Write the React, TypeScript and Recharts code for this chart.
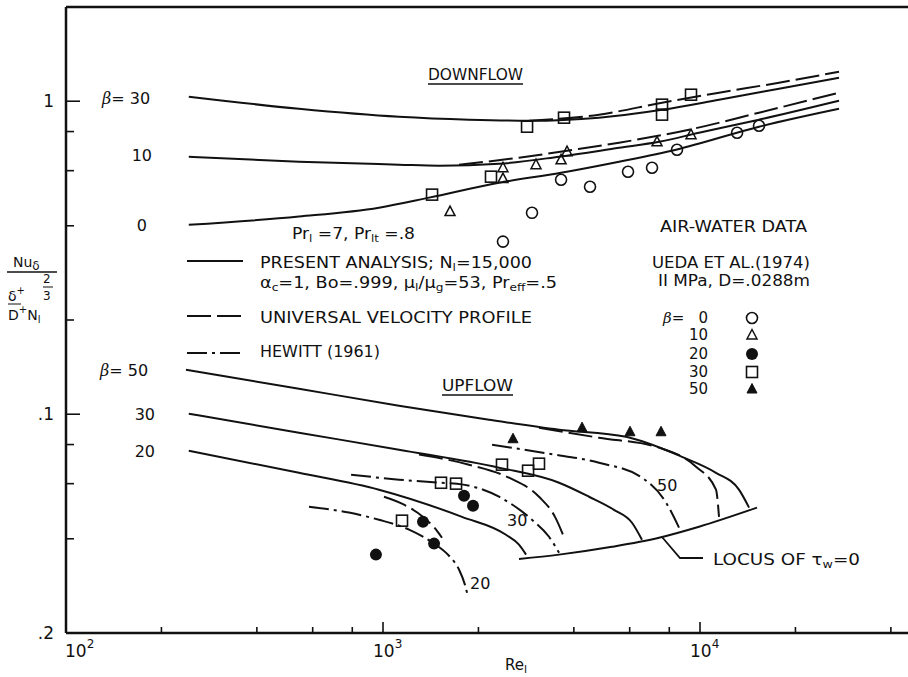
import React from 'react';
import { ComposedChart, Line, Scatter, XAxis, YAxis, ReferenceLine } from 'recharts';

type Pt = [number, number]; // [Re_l, Nu group]

// ---- DOWNFLOW (upper family) ----
const downPresent30: Pt[] = [[244, 1.034], [543, 0.946], [1123, 0.892], [1867, 0.873], [2888, 0.866], [4801, 0.886], [7589, 0.939], [11480, 1.011], [17750, 1.096], [27450, 1.189]];
const downUniversal30: Pt[] = [[2888, 0.866], [4801, 0.906], [7589, 0.989], [11480, 1.065], [17750, 1.146], [27450, 1.242]];
const downPresent10: Pt[] = [[244, 0.665], [543, 0.641], [1123, 0.627], [1502, 0.622], [2322, 0.631], [3592, 0.665], [5553, 0.71], [7425, 0.742], [9927, 0.793], [15350, 0.873], [27450, 1.004]];
const downUniversal10: Pt[] = [[1737, 0.627], [2685, 0.66], [3806, 0.695], [5553, 0.737], [9232, 0.811], [15350, 0.919], [27450, 1.065]];
const downPresent0: Pt[] = [[244, 0.403], [543, 0.428], [971, 0.457], [1397, 0.492], [2322, 0.549], [3645, 0.591], [5553, 0.641], [8402, 0.7], [15350, 0.829], [27450, 0.946]];

const downSquares30: Pt[] = [[1428, 0.503], [2191, 0.574], [2847, 0.829], [3724, 0.886], [7589, 0.975], [7589, 0.906], [9367, 1.049]];
const downTriangles10: Pt[] = [[1627, 0.444], [2390, 0.613], [2390, 0.566], [3038, 0.627], [3645, 0.65], [3806, 0.69], [7318, 0.742], [9367, 0.782]];
const downCircles0: Pt[] = [[2390, 0.356], [2951, 0.44], [3645, 0.561], [4498, 0.533], [5928, 0.595], [7057, 0.613], [8461, 0.7], [13090, 0.793], [15350, 0.835]];

// ---- UPFLOW (lower family, plotted a decade down) ----
const upPresent50: Pt[] = [[239, 0.1388], [543, 0.1206], [1123, 0.1065], [2160, 0.096], [3592, 0.0892], [5842, 0.0847], [8776, 0.0731], [11230, 0.065], [13270, 0.0574], [14280, 0.0503]];
const upUniversal50: Pt[] = [[3105, 0.0906], [4801, 0.0841], [7425, 0.0782], [9714, 0.068], [11230, 0.0574], [11480, 0.047]];
const upHewitt50: Pt[] = [[2208, 0.0799], [3340, 0.0748], [4801, 0.07], [6561, 0.0627], [7813, 0.0522], [8586, 0.0434]];
const upPresent30: Pt[] = [[244, 0.1004], [543, 0.0873], [1123, 0.077], [2322, 0.0675], [3592, 0.0604], [4466, 0.0545], [5354, 0.0495], [6102, 0.045], [6561, 0.0397]];
const upUniversal30: Pt[] = [[1299, 0.0743], [1867, 0.069], [2497, 0.0627], [3105, 0.0545], [3488, 0.047], [3751, 0.0397]];
const upHewitt30: Pt[] = [[793, 0.0641], [1123, 0.0618], [1524, 0.0604], [1712, 0.06], [2322, 0.0545], [2951, 0.046], [3340, 0.0406], [3592, 0.0361]];
const upPresent20: Pt[] = [[244, 0.0764], [543, 0.065], [971, 0.0574], [1775, 0.047], [2443, 0.0412], [2685, 0.0383], [2826, 0.0356]];
const upUniversal20: Pt[] = [[1007, 0.0545], [1165, 0.0514], [1347, 0.0467], [1470, 0.0428], [1535, 0.0403]];
const upHewitt20: Pt[] = [[584, 0.0506], [781, 0.0485], [971, 0.046], [1208, 0.0428], [1449, 0.0386], [1615, 0.0353], [1737, 0.0319], [1814, 0.0285], [1854, 0.0261]];
const locusTw0: Pt[] = [[2685, 0.0345], [3592, 0.0356], [5277, 0.0377], [7425, 0.0403], [9927, 0.0437], [15130, 0.0503]];

const upTriangles50: Pt[] = [[2571, 0.0835], [4245, 0.0906], [6014, 0.0879], [7534, 0.0879]];
const upSquares30: Pt[] = [[2373, 0.069], [2868, 0.066], [3105, 0.0695], [1524, 0.0604], [1700, 0.06], [1148, 0.0457]];
const upDots20: Pt[] = [[1801, 0.0549], [1923, 0.051], [1337, 0.0453], [1449, 0.0386], [950, 0.0356]];

// axes
const X_TICKS = [100, 200, 400, 600, 800, 1000, 2000, 4000, 6000, 8000, 10000, 20000, 40000];
const X_MAJOR = [100, 1000, 10000];
const Y_TICKS = [0.02, 0.04, 0.06, 0.08, 0.1, 0.2, 0.4, 0.6, 0.8, 1];
const Y_LABELS: Record<string, string> = { '1': '1', '0.1': '.1', '0.02': '.2' };

const W = 908;
const H = 677;
const PLOT_LEFT = 66;
const PLOT_TOP = 7;
const PLOT_BOTTOM = 633;
const INK = '#111';
const FONT = "'DejaVu Sans', 'Liberation Sans', sans-serif";
const DASH = '24 6';
const DASHDOT = '20 5 3 5';

const toPts = (a: Pt[]) => a.map(([re, v]) => ({ re, v }));

const curves = [
  { id: 'd30p', pts: downPresent30, dash: undefined },
  { id: 'd30u', pts: downUniversal30, dash: DASH },
  { id: 'd10p', pts: downPresent10, dash: undefined },
  { id: 'd10u', pts: downUniversal10, dash: DASH },
  { id: 'd0p', pts: downPresent0, dash: undefined },
  { id: 'u50p', pts: upPresent50, dash: undefined },
  { id: 'u50u', pts: upUniversal50, dash: DASH },
  { id: 'u50h', pts: upHewitt50, dash: DASHDOT },
  { id: 'u30p', pts: upPresent30, dash: undefined },
  { id: 'u30u', pts: upUniversal30, dash: DASH },
  { id: 'u30h', pts: upHewitt30, dash: DASHDOT },
  { id: 'u20p', pts: upPresent20, dash: undefined },
  { id: 'u20u', pts: upUniversal20, dash: DASH },
  { id: 'u20h', pts: upHewitt20, dash: DASHDOT },
  { id: 'locus', pts: locusTw0, dash: undefined },
];

const openCircle = (p: any) => <circle cx={p.cx} cy={p.cy} r={5.5} fill="none" stroke={INK} strokeWidth={1.6} />;
const filledCircle = (p: any) => <circle cx={p.cx} cy={p.cy} r={6} fill={INK} />;
const openSquare = (p: any) => <rect x={p.cx - 5.5} y={p.cy - 5.5} width={11} height={11} fill="none" stroke={INK} strokeWidth={1.6} />;
const triPath = (cx: number, cy: number) => `M${cx},${cy - 5.5} L${cx + 5},${cy + 4} L${cx - 5},${cy + 4} Z`;
const openTriangle = (p: any) => <path d={triPath(p.cx, p.cy)} fill="none" stroke={INK} strokeWidth={1.5} />;
const filledTriangle = (p: any) => <path d={triPath(p.cx, p.cy)} fill={INK} stroke={INK} strokeWidth={1} />;

const markers = [
  { id: 'ds30', pts: downSquares30, shape: openSquare },
  { id: 'dt10', pts: downTriangles10, shape: openTriangle },
  { id: 'dc0', pts: downCircles0, shape: openCircle },
  { id: 'ut50', pts: upTriangles50, shape: filledTriangle },
  { id: 'us30', pts: upSquares30, shape: openSquare },
  { id: 'ud20', pts: upDots20, shape: filledCircle },
];

function XTick(props: any) {
  const { x, payload } = props;
  const v = payload.value;
  const major = X_MAJOR.includes(v);
  const exp = Math.round(Math.log10(v));
  const tx = v === 100 ? x - 1 : x - 10;
  return (
    <g>
      <line x1={x} x2={x} y1={PLOT_BOTTOM} y2={PLOT_BOTTOM - (major ? 11 : 6)} stroke={INK} strokeWidth={1.6} />
      {major && (
        <text x={tx} y={657} fontSize={17} fontFamily={FONT} fill={INK}>
          <tspan>10</tspan>
          <tspan dy={-9} fontSize={12}>{exp}</tspan>
        </text>
      )}
    </g>
  );
}

function YTick(props: any) {
  const { y, payload } = props;
  const v = payload.value;
  const label = Y_LABELS[String(v)];
  const len = v === 1 || v === 0.1 ? 14 : 8;
  return (
    <g>
      {v !== 0.02 && <line x1={PLOT_LEFT} x2={PLOT_LEFT + len} y1={y} y2={y} stroke={INK} strokeWidth={1.6} />}
      {label && (
        <text x={54} y={y + 6} textAnchor="end" fontSize={17} fontFamily={FONT} fill={INK}>
          {label}
        </text>
      )}
    </g>
  );
}

type Seg = string | { sub: string } | { sup: string };

// text with sub/superscripts, keeping the baseline in step
function Rich({ segs, small = 11, ...rest }: any) {
  let shift = 0;
  const out = (segs as Seg[]).map((s, i) => {
    if (typeof s === 'string') {
      const dy = -shift;
      shift = 0;
      return <tspan key={i} dy={dy}>{s}</tspan>;
    }
    if ('sub' in s) {
      const dy = 3 - shift;
      shift = 3;
      return <tspan key={i} dy={dy} fontSize={small}>{s.sub}</tspan>;
    }
    const dy = -7 - shift;
    shift = -7;
    return <tspan key={i} dy={dy} fontSize={small}>{s.sup}</tspan>;
  });
  return <text fontFamily={FONT} fill={INK} {...rest}>{out}</text>;
}

function Beta({ x, y, rest, size = 16 }: { x: number; y: number; rest: string; size?: number }) {
  return (
    <text x={x} y={y} fontFamily={FONT} fill={INK} fontSize={size}>
      <tspan fontStyle="italic" fontFamily="'DejaVu Serif', serif">β</tspan>
      <tspan>{rest}</tspan>
    </text>
  );
}

function Annotations() {
  const t = { fontFamily: FONT, fill: INK, fontSize: 16 } as const;
  return (
    <svg width={W} height={H} style={{ position: 'absolute', left: 0, top: 0, pointerEvents: 'none' }}>
      {/* y-axis group label */}
      <Rich x={13} y={267} fontSize={14} small={12} segs={['Nu', { sub: 'δ' }]} />
      <line x1={7} x2={57} y1={272} y2={272} stroke={INK} strokeWidth={1.5} />
      <Rich x={8} y={301} fontSize={14} small={10} segs={['δ', { sup: '+' }]} />
      <line x1={8} x2={21} y1={304} y2={304} stroke={INK} strokeWidth={1} />
      <Rich x={8} y={320} fontSize={14} small={10} segs={['D', { sup: '+' }, 'N', { sub: 'l' }]} />
      <text x={43} y={283} fontSize={12} fontFamily={FONT} fill={INK}>2</text>
      <line x1={43} x2={53} y1={287} y2={287} stroke={INK} strokeWidth={1} />
      <text x={43} y={300} fontSize={12} fontFamily={FONT} fill={INK}>3</text>

      {/* x-axis label */}
      <Rich x={505} y={670} fontSize={15} segs={['Re', { sub: 'l' }]} />

      {/* family titles */}
      <text x={428} y={80} {...t} textLength={95} lengthAdjust="spacingAndGlyphs">DOWNFLOW</text>
      <line x1={428} x2={523} y1={84} y2={84} stroke={INK} strokeWidth={1.5} />
      <text x={442} y={391} {...t} textLength={71} lengthAdjust="spacingAndGlyphs">UPFLOW</text>
      <line x1={442} x2={513} y1={395} y2={395} stroke={INK} strokeWidth={1.5} />

      {/* beta labels at curve starts */}
      <Beta x={102} y={104} rest="= 30" />
      <text x={152} y={161} {...t} textAnchor="end">10</text>
      <text x={147} y={231} {...t} textAnchor="end">0</text>
      <Beta x={100} y={376} rest="= 50" />
      <text x={155} y={420} {...t} textAnchor="end">30</text>
      <text x={155} y={457} {...t} textAnchor="end">20</text>

      {/* left legend */}
      <Rich x={292} y={239} fontSize={16} textLength={123} lengthAdjust="spacingAndGlyphs"
        segs={['Pr', { sub: 'l' }, ' =7, Pr', { sub: 'lt' }, ' =.8']} />
      <line x1={187} x2={243} y1={261} y2={261} stroke={INK} strokeWidth={2} />
      <Rich x={260} y={268} fontSize={16} textLength={272} lengthAdjust="spacingAndGlyphs"
        segs={['PRESENT ANALYSIS; N', { sub: 'l' }, '=15,000']} />
      <Rich x={260} y={288} fontSize={16} textLength={297} lengthAdjust="spacingAndGlyphs"
        segs={['α', { sub: 'c' }, '=1, Bo=.999, μ', { sub: 'l' }, '/μ', { sub: 'g' }, '=53, Pr', { sub: 'eff' }, '=.5']} />
      <line x1={187} x2={243} y1={316} y2={316} stroke={INK} strokeWidth={2} strokeDasharray={DASH} />
      <text x={260} y={323} {...t} textLength={272} lengthAdjust="spacingAndGlyphs">UNIVERSAL VELOCITY PROFILE</text>
      <line x1={187} x2={243} y1={353} y2={353} stroke={INK} strokeWidth={2} strokeDasharray={DASHDOT} />
      <text x={260} y={357} {...t} textLength={120} lengthAdjust="spacingAndGlyphs">HEWITT (1961)</text>

      {/* right legend */}
      <text x={660} y={232} {...t} textLength={147} lengthAdjust="spacingAndGlyphs">AIR-WATER DATA</text>
      <text x={652} y={268} {...t} textLength={158} lengthAdjust="spacingAndGlyphs">UEDA ET AL.(1974)</text>
      <text x={658} y={286} {...t} textLength={152} lengthAdjust="spacingAndGlyphs">II MPa, D=.0288m</text>
      <Beta x={663} y={323} rest="=" size={15} />
      <text x={708} y={323} {...t} fontSize={15} textAnchor="end">0</text>
      <text x={708} y={340} {...t} fontSize={15} textAnchor="end">10</text>
      <text x={708} y={359} {...t} fontSize={15} textAnchor="end">20</text>
      <text x={708} y={377} {...t} fontSize={15} textAnchor="end">30</text>
      <text x={708} y={394} {...t} fontSize={15} textAnchor="end">50</text>
      {openCircle({ cx: 752, cy: 318 })}
      {openTriangle({ cx: 752, cy: 335 })}
      {filledCircle({ cx: 752, cy: 354 })}
      {openSquare({ cx: 752, cy: 372 })}
      {filledTriangle({ cx: 752, cy: 389 })}

      {/* upflow curve labels */}
      <text x={657} y={491} {...t}>50</text>
      <text x={507} y={526} {...t}>30</text>
      <text x={470} y={589} {...t}>20</text>

      {/* locus pointer */}
      <polyline points="662,537 680,558 703,558" fill="none" stroke={INK} strokeWidth={1.8} />
      <Rich x={713} y={565} fontSize={16} textLength={147} lengthAdjust="spacingAndGlyphs"
        segs={['LOCUS OF τ', { sub: 'w' }, '=0']} />
    </svg>
  );
}

export default function App() {
  return (
    <div style={{ position: 'absolute', left: 0, top: 0, width: W, height: H, background: '#fff' }}>
      <ComposedChart width={W} height={H} margin={{ top: PLOT_TOP, right: 0, bottom: 0, left: 0 }}>
        <XAxis
          dataKey="re"
          type="number"
          scale="log"
          domain={[100, 45300]}
          allowDataOverflow
          ticks={X_TICKS}
          interval={0}
          tick={(p: any) => <XTick {...p} />}
          tickLine={false}
          axisLine={{ stroke: INK, strokeWidth: 2.5 }}
          height={H - PLOT_BOTTOM}
        />
        <YAxis
          dataKey="v"
          type="number"
          scale="log"
          domain={[0.02, 2]}
          allowDataOverflow
          ticks={Y_TICKS}
          interval={0}
          tick={(p: any) => <YTick {...p} />}
          tickLine={false}
          axisLine={{ stroke: INK, strokeWidth: 2.5 }}
          width={PLOT_LEFT}
        />
        <ReferenceLine y={2} stroke={INK} strokeWidth={2.5} ifOverflow="visible" />
        {curves.map((c) => (
          <Line
            key={c.id}
            data={toPts(c.pts)}
            dataKey="v"
            type="monotone"
            stroke={INK}
            strokeWidth={2}
            strokeDasharray={c.dash}
            dot={false}
            activeDot={false}
            legendType="none"
            isAnimationActive={false}
          />
        ))}
        {markers.map((m) => (
          <Scatter key={m.id} data={toPts(m.pts)} dataKey="v" shape={m.shape} isAnimationActive={false} />
        ))}
      </ComposedChart>
      <Annotations />
    </div>
  );
}
